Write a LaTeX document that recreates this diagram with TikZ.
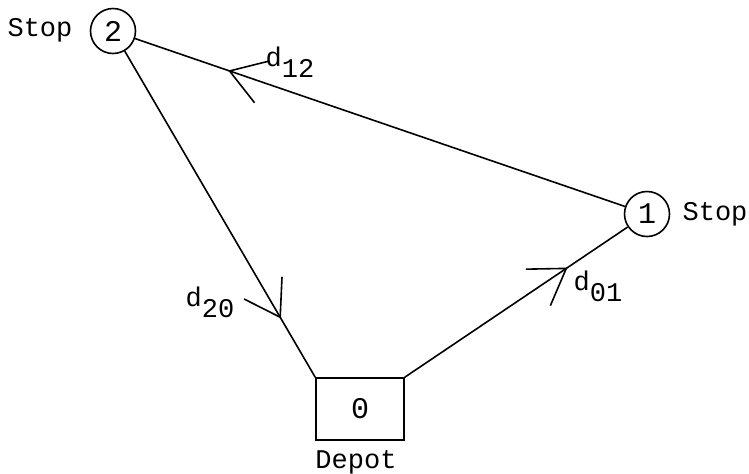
\documentclass[tikz,border=0pt]{standalone}
\usepackage{fontspec}
\setmonofont{Liberation Mono}
\usetikzlibrary{arrows.meta,decorations.markings}

\newcommand{\dist}[1]{d\raisebox{-0.4em}{#1}}

\begin{document}
\begin{tikzpicture}[x=0.5pt,y=-0.5pt,line width=0.8pt,
        font=\ttfamily\fontsize{13.5}{15}\selectfont,
        stop/.style={draw,circle,minimum size=22.5pt,inner sep=0pt,font=\ttfamily\fontsize{15}{17}\selectfont},
        depot/.style={draw,minimum width=44pt,minimum height=31pt,inner sep=0pt,font=\ttfamily\fontsize{15}{17}\selectfont},
        barb/.style={postaction={decorate},decoration={markings,
            mark=at position #1 with {\arrow{Straight Barb[length=17pt,width=22pt]}}}}]
        \useasboundingbox (0,0) rectangle (749,473);
        \node[stop] (n2) at (113,31) {2};
        \node[stop] (n1) at (647,214) {1};
        \node[depot] (n0) at (360,409) {0};
        \node (s2) at (40,30) {Stop};
        \node (s1) at (715,214) {Stop};
        \node (dep) at (356,462) {Depot};
        \node (l12) at (290,62) {\dist{12}};
        \node (l20) at (210,302) {\dist{20}};
        \node (l01) at (598,286) {\dist{01}};
        \draw[barb=0.81] (n1) -- (n2);
        \draw[barb=0.82] (n2) -- (n0.north west);
        \draw[barb=0.73] (n0.north east) -- (n1);
      \end{tikzpicture}
\end{document}
